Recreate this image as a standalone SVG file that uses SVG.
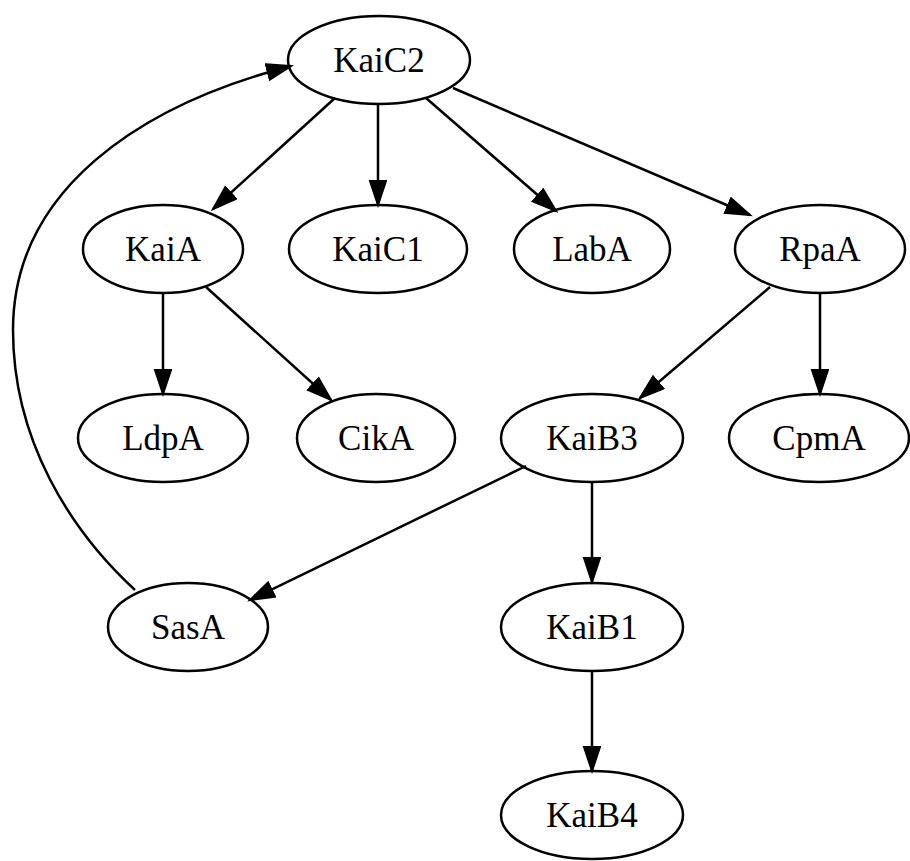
<svg xmlns="http://www.w3.org/2000/svg" width="910" height="861" viewBox="0 0 910 861">
<style>
.node ellipse{fill:none;stroke:#000;stroke-width:2.5}
.node text{font-family:"Liberation Serif","Times New Roman",serif;font-size:35px;text-anchor:middle;fill:#000}
.edge path{fill:none;stroke:#000;stroke-width:2.5}
</style>
<defs>
<marker id="arr" markerUnits="userSpaceOnUse" markerWidth="28" markerHeight="22" refX="25" refY="9" orient="auto">
<path d="M1,1 L25,9 L1,17 z" fill="#000" stroke="#000" stroke-width="2"/>
</marker>
</defs>
<rect width="910" height="861" fill="#fff"/>
<g id="edges" class="edge">
<path d="M335,98 L213,209" marker-end="url(#arr)"/>
<path d="M378,104 L378,205" marker-end="url(#arr)"/>
<path d="M426,98 L556,211" marker-end="url(#arr)"/>
<path d="M453,88 L750,215" marker-end="url(#arr)"/>
<path d="M163,293 L163,394" marker-end="url(#arr)"/>
<path d="M206,287 L331,400" marker-end="url(#arr)"/>
<path d="M770,287 L640,398" marker-end="url(#arr)"/>
<path d="M820,293 L820,394" marker-end="url(#arr)"/>
<path d="M526,466 L250,600" marker-end="url(#arr)"/>
<path d="M592,482 L592,582" marker-end="url(#arr)"/>
<path d="M592,671 L592,771" marker-end="url(#arr)"/>
<path d="M135,590 C70,530 13,440 13,330 C13,190 140,105 291,66" marker-end="url(#arr)"/>
</g>
<g id="KaiC2" class="node"><ellipse cx="379" cy="60" rx="91" ry="44"/><text x="379" y="72">KaiC2</text></g>
<g id="KaiA" class="node"><ellipse cx="163" cy="249" rx="80" ry="44"/><text x="163" y="261">KaiA</text></g>
<g id="KaiC1" class="node"><ellipse cx="378" cy="249" rx="89" ry="44"/><text x="378" y="261">KaiC1</text></g>
<g id="LabA" class="node"><ellipse cx="592" cy="249" rx="78" ry="44"/><text x="592" y="261">LabA</text></g>
<g id="RpaA" class="node"><ellipse cx="820" cy="249" rx="85" ry="44"/><text x="820" y="261">RpaA</text></g>
<g id="LdpA" class="node"><ellipse cx="163" cy="438" rx="85" ry="44"/><text x="163" y="450">LdpA</text></g>
<g id="CikA" class="node"><ellipse cx="376" cy="438" rx="79" ry="44"/><text x="376" y="450">CikA</text></g>
<g id="KaiB3" class="node"><ellipse cx="592" cy="438" rx="91" ry="44"/><text x="592" y="450">KaiB3</text></g>
<g id="CpmA" class="node"><ellipse cx="819" cy="438" rx="90" ry="44"/><text x="819" y="450">CpmA</text></g>
<g id="SasA" class="node"><ellipse cx="188" cy="627" rx="80" ry="44"/><text x="188" y="639">SasA</text></g>
<g id="KaiB1" class="node"><ellipse cx="592" cy="627" rx="91" ry="44"/><text x="592" y="639">KaiB1</text></g>
<g id="KaiB4" class="node"><ellipse cx="592" cy="815" rx="91" ry="44"/><text x="592" y="827">KaiB4</text></g>
</svg>
